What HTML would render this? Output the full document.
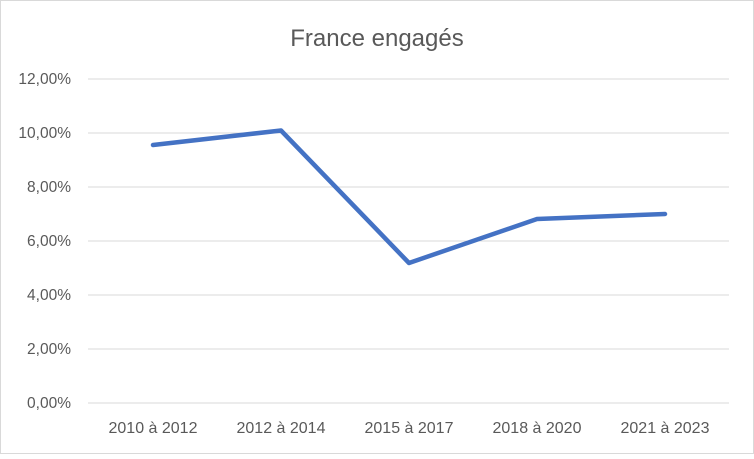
<!DOCTYPE html>
<html><head><style>body{margin:0;background:#fff}</style></head><body>
<svg width="754" height="454" viewBox="0 0 754 454" xmlns="http://www.w3.org/2000/svg" font-family="Liberation Sans, sans-serif">
<rect x="0.5" y="0.5" width="753" height="453" fill="#fff" stroke="#d9d9d9"/>
<text x="377" y="46" text-anchor="middle" font-size="24" fill="#595959">France engagés</text>
<g stroke="#d9d9d9" stroke-width="1">
<line x1="88" x2="729" y1="79" y2="79"/><line x1="88" x2="729" y1="133" y2="133"/>
<line x1="88" x2="729" y1="187" y2="187"/><line x1="88" x2="729" y1="241" y2="241"/>
<line x1="88" x2="729" y1="295" y2="295"/><line x1="88" x2="729" y1="349" y2="349"/>
<line x1="88" x2="729" y1="403" y2="403"/>
</g>
<g font-size="15.5" fill="#595959" text-anchor="end">
<text x="71" y="84">12,00%</text><text x="71" y="138">10,00%</text><text x="71" y="192">8,00%</text>
<text x="71" y="246">6,00%</text><text x="71" y="300">4,00%</text><text x="71" y="354">2,00%</text><text x="71" y="408">0,00%</text>
</g>
<g font-size="16" fill="#595959" text-anchor="middle">
<text x="153" y="433">2010 à 2012</text><text x="281" y="433">2012 à 2014</text><text x="409" y="433">2015 à 2017</text>
<text x="537" y="433">2018 à 2020</text><text x="665" y="433">2021 à 2023</text>
</g>
<polyline points="153,145 281,130.5 409,263 537,219 665,214" fill="none" stroke="#4472c4" stroke-width="4.5" stroke-linejoin="round" stroke-linecap="round"/>
</svg>
</body></html>
